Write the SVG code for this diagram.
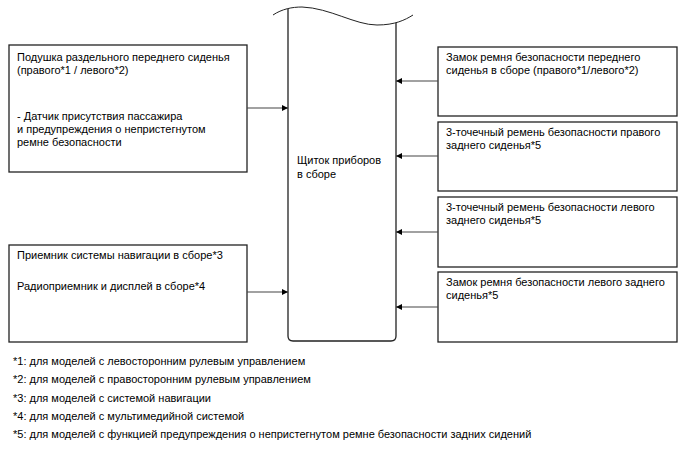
<svg xmlns="http://www.w3.org/2000/svg" width="688" height="463" viewBox="0 0 688 463">
<style>
.box{fill:#fff;stroke:#222;stroke-width:1.3}
.t{font-family:"Liberation Sans",Arial,sans-serif;font-size:11px;fill:#000}
.c{stroke:#444;stroke-width:1.2;fill:none}
</style>
<defs>
<marker id="ah" viewBox="0 0 10 10" refX="10" refY="5" markerWidth="8" markerHeight="6" markerUnits="userSpaceOnUse" orient="auto"><path d="M0,0L10,5L0,10Z" fill="#000"/></marker>
</defs>
<rect width="688" height="463" fill="#fff"/>
<g id="panel">
<path d="M288,9 V336 Q288,341 293,341 H391 Q396,341 396,336 V23" fill="none" stroke="#222" stroke-width="1.3"/>
<path d="M273,15 C282,9 292,7 302,7 C330,8 355,25 377,25 C395,25 405,20 413,15" fill="none" stroke="#222" stroke-width="1"/>
<text class="t" x="297" y="164">Щиток приборов</text>
<text class="t" x="297" y="178">в сборе</text>
</g>
<g id="airbag">
<rect class="box" x="9" y="45" width="238" height="127"/>
<text class="t" x="17" y="61">Подушка раздельного переднего сиденья</text>
<text class="t" x="17" y="74">(правого*1 / левого*2)</text>
<text class="t" x="17" y="120">- Датчик присутствия пассажира</text>
<text class="t" x="17" y="133">и предупреждения о непристегнутом</text>
<text class="t" x="17" y="146">ремне безопасности</text>
</g>
<g id="nav">
<rect class="box" x="9" y="245" width="238" height="97"/>
<text class="t" x="17" y="259">Приемник системы навигации в сборе*3</text>
<text class="t" x="17" y="290">Радиоприемник и дисплей в сборе*4</text>
</g>
<g id="buckle-front">
<rect class="box" x="438" y="47" width="239" height="69"/>
<text class="t" x="446" y="61">Замок ремня безопасности переднего</text>
<text class="t" x="446" y="74">сиденья в сборе (правого*1/левого*2)</text>
</g>
<g id="belt-rr">
<rect class="box" x="438" y="122" width="239" height="69"/>
<text class="t" x="446" y="136">3-точечный ремень безопасности правого</text>
<text class="t" x="446" y="149">заднего сиденья*5</text>
</g>
<g id="belt-rl">
<rect class="box" x="438" y="197" width="239" height="70"/>
<text class="t" x="446" y="211">3-точечный ремень безопасности левого</text>
<text class="t" x="446" y="224">заднего сиденья*5</text>
</g>
<g id="buckle-rl">
<rect class="box" x="438" y="272" width="239" height="70"/>
<text class="t" x="446" y="286">Замок ремня безопасности левого заднего</text>
<text class="t" x="446" y="299">сиденья*5</text>
</g>
<g id="connectors">
<line class="c" x1="247" y1="108" x2="288" y2="108" marker-end="url(#ah)"/>
<line class="c" x1="247" y1="292" x2="288" y2="292" marker-end="url(#ah)"/>
<line class="c" x1="438" y1="81" x2="396" y2="81" marker-end="url(#ah)"/>
<line class="c" x1="438" y1="156" x2="396" y2="156" marker-end="url(#ah)"/>
<line class="c" x1="438" y1="232" x2="396" y2="232" marker-end="url(#ah)"/>
<line class="c" x1="438" y1="307" x2="396" y2="307" marker-end="url(#ah)"/>
</g>
<g id="notes">
<text class="t" x="13" y="365">*1: для моделей с левосторонним рулевым управлением</text>
<text class="t" x="13" y="383">*2: для моделей с правосторонним рулевым управлением</text>
<text class="t" x="13" y="401.5">*3: для моделей с системой навигации</text>
<text class="t" x="13" y="420">*4: для моделей с мультимедийной системой</text>
<text class="t" x="13" y="438">*5: для моделей с функцией предупреждения о непристегнутом ремне безопасности задних сидений</text>
</g>
</svg>
